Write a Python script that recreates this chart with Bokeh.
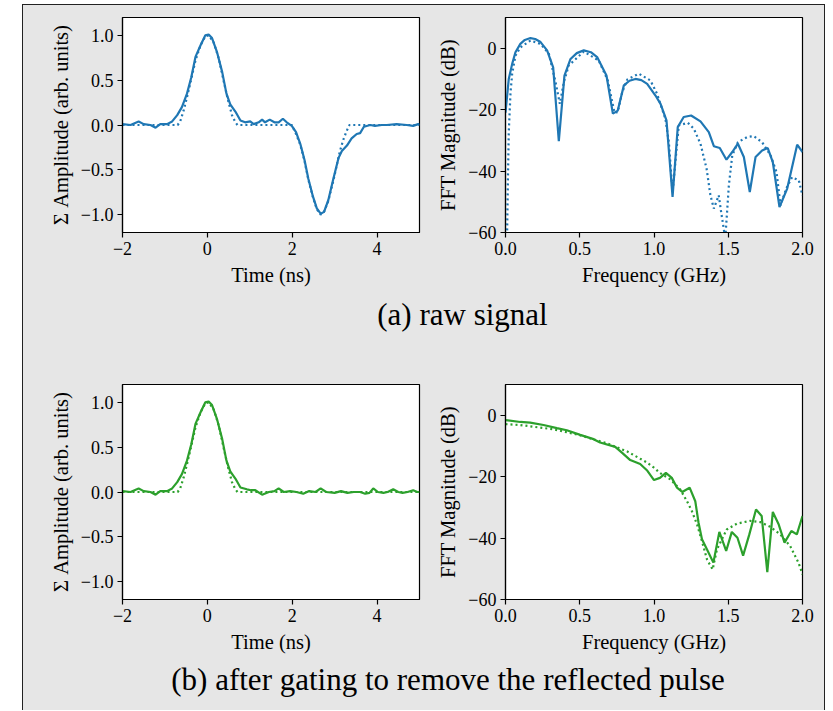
from bokeh.plotting import figure
from bokeh.layouts import row, column
from bokeh.models import Range1d, FixedTicker, Spacer
from bokeh.embed import file_html
from bokeh.resources import INLINE
from bokeh.core.properties import value

# ---------------- data ----------------
# (a) raw signal, time domain
a_time_meas = [-2.0, -1.81, -1.62, -1.50, -1.34, -1.22, -1.11, -0.95, -0.83, -0.71, -0.60, -0.48,
               -0.38, -0.28, -0.16, -0.05, 0.03, 0.11, 0.23, 0.35, 0.45, 0.54, 0.66, 0.78, 0.89,
               1.01, 1.09, 1.21, 1.29, 1.36, 1.47, 1.58, 1.68, 1.78, 1.87, 1.99, 2.09, 2.19, 2.29,
               2.38, 2.49, 2.58, 2.67, 2.75, 2.85, 2.97, 3.09, 3.17, 3.29, 3.40, 3.52, 3.60, 3.69,
               3.84, 3.95, 4.11, 4.23, 4.46, 4.70, 4.85, 4.97, 5.0]
a_amp_meas = [0.01, 0.0, 0.04, 0.01, 0.0, -0.03, 0.01, 0.01, 0.04, 0.11, 0.20, 0.35,
              0.53, 0.76, 0.89, 1.0, 1.01, 0.97, 0.81, 0.59, 0.35, 0.23, 0.15, 0.05, 0.03,
              0.04, 0.01, 0.03, 0.06, 0.03, 0.06, 0.03, 0.03, 0.07, 0.03, -0.01, -0.08, -0.21, -0.39,
              -0.60, -0.80, -0.93, -0.99, -0.97, -0.84, -0.60, -0.37, -0.29, -0.23, -0.15, -0.10, -0.09, -0.02,
              0.0, -0.01, 0.0, 0.0, 0.01, 0.0, -0.01, 0.01, 0.01]
a_time_model = [-2.0, -0.70, -0.64, -0.56, -0.48, -0.38, -0.28, -0.16, -0.05, 0.03, 0.15, 0.27,
                0.38, 0.48, 0.58, 0.66, 0.71, 1.99, 2.09, 2.19, 2.29, 2.38, 2.49, 2.58, 2.67,
                2.75, 2.85, 2.97, 3.05, 3.12, 3.20, 3.28, 3.35, 5.0]
a_amp_model = [0.0, 0.0, 0.04, 0.16, 0.31, 0.51, 0.72, 0.89, 0.99, 1.0, 0.92, 0.74,
               0.50, 0.29, 0.11, 0.03, 0.0, 0.0, -0.10, -0.22, -0.40, -0.61, -0.81, -0.94, -1.0,
               -0.97, -0.85, -0.62, -0.45, -0.30, -0.17, -0.07, 0.0, 0.0]

# (a) raw signal, spectrum
a_freq_meas = [0.0, 0.022, 0.045, 0.067, 0.10, 0.13, 0.168, 0.20, 0.236, 0.28, 0.321, 0.359, 0.397,
               0.438, 0.48, 0.527, 0.575, 0.617, 0.68, 0.723, 0.756, 0.797, 0.835, 0.875, 0.915,
               0.954, 1.01, 1.044, 1.084, 1.125, 1.16, 1.20, 1.25, 1.313, 1.369, 1.403, 1.443,
               1.488, 1.527, 1.565, 1.605, 1.645, 1.684, 1.728, 1.766, 1.80, 1.845, 1.897, 1.964, 2.0]
a_db_meas = [-21.0, -10.0, -5.1, -1.3, 1.4, 2.7, 3.3, 3.0, 2.0, -0.7, -6.2, -30.3, -8.9,
             -3.5, -1.6, -0.7, -1.3, -2.9, -8.9, -21.3, -20.3, -12.1, -10.6, -10.0, -10.4,
             -11.6, -15.4, -18.1, -23.5, -48.4, -25.7, -22.4, -21.9, -23.8, -27.3, -31.9, -32.5,
             -36.3, -33.8, -31.1, -35.4, -46.8, -35.4, -33.3, -32.5, -37.1, -51.7, -45.7, -31.4, -33.8]
a_freq_model = [0.0, 0.011, 0.016, 0.022, 0.034, 0.045, 0.067, 0.101, 0.168, 0.236, 0.292, 0.337,
                0.366, 0.393, 0.426, 0.527, 0.628, 0.689, 0.734, 0.756, 0.786, 0.82, 0.898, 0.976,
                1.02, 1.077, 1.10, 1.125, 1.167, 1.228, 1.268, 1.313, 1.354, 1.38, 1.403, 1.436,
                1.452, 1.48, 1.504, 1.527, 1.565, 1.628, 1.672, 1.728, 1.785, 1.825, 1.852, 1.89,
                1.93, 1.975, 2.0]
a_db_model = [-100.0, -60.0, -43.6, -27.3, -14.3, -8.3, -2.4, 0.3, 2.5, 1.4, -1.8, -11.0,
              -18.1, -11.0, -5.6, -1.1, -4.0, -10.5, -21.0, -20.8, -14.3, -10.2, -8.3, -10.5,
              -14.8, -23.0, -30.6, -47.0, -25.1, -24.3, -26.2, -31.1, -39.2, -47.9, -52.2, -47.9,
              -53.3, -62.0, -44.7, -34.9, -30.6, -28.9, -28.6, -30.6, -34.9, -40.3, -51.2, -45.7,
              -42.0, -43.0, -48.0]

# (b) gated signal, time domain
b_time_meas = [-2.0, -1.81, -1.62, -1.50, -1.34, -1.22, -1.11, -0.95, -0.83, -0.71, -0.60, -0.48,
               -0.38, -0.28, -0.16, -0.05, 0.03, 0.11, 0.23, 0.35, 0.45, 0.54, 0.66, 0.78, 0.93,
               1.03, 1.13, 1.29, 1.45, 1.58, 1.68, 1.80, 1.95, 2.10, 2.26, 2.40, 2.55, 2.67, 2.80,
               3.00, 3.15, 3.30, 3.45, 3.60, 3.72, 3.82, 3.91, 4.02, 4.15, 4.25, 4.38, 4.50, 4.60,
               4.72, 4.85, 4.95, 5.0]
b_amp_meas = [0.01, 0.0, 0.04, 0.01, 0.0, -0.03, 0.01, 0.01, 0.04, 0.11, 0.20, 0.35,
              0.53, 0.76, 0.89, 1.0, 1.01, 0.97, 0.81, 0.59, 0.35, 0.23, 0.15, 0.05, 0.03,
              0.02, 0.02, -0.03, 0.0, 0.01, 0.04, 0.0, 0.01, 0.0, -0.02, 0.01, 0.0, 0.04, 0.0,
              -0.01, 0.01, -0.01, 0.0, 0.0, -0.02, -0.01, 0.04, 0.0, -0.01, 0.0, 0.03, 0.0, -0.01,
              0.0, 0.02, 0.0, 0.0]
b_time_model = [-2.0, -0.70, -0.64, -0.56, -0.48, -0.38, -0.28, -0.16, -0.05, 0.03, 0.15, 0.27,
                0.38, 0.48, 0.58, 0.66, 0.71, 5.0]
b_amp_model = [0.0, 0.0, 0.04, 0.16, 0.31, 0.51, 0.72, 0.89, 0.99, 1.0, 0.92, 0.74,
               0.50, 0.29, 0.11, 0.03, 0.0, 0.0]

# (b) gated signal, spectrum
b_freq_meas = [0.0, 0.1, 0.166, 0.256, 0.346, 0.413, 0.503, 0.593, 0.637, 0.739, 0.784, 0.84,
               0.907, 0.952, 1.0, 1.04, 1.08, 1.12, 1.155, 1.19, 1.24, 1.278, 1.30, 1.323, 1.357,
               1.40, 1.44, 1.486, 1.524, 1.562, 1.60, 1.642, 1.687, 1.725, 1.763, 1.80, 1.84,
               1.879, 1.925, 1.962, 2.0]
b_db_meas = [-1.6, -2.2, -2.4, -3.2, -4.2, -4.9, -6.4, -7.8, -8.9, -10.3, -12.2, -14.6,
             -15.9, -17.9, -21.1, -20.4, -18.8, -20.4, -23.6, -25.0, -23.6, -28.0, -35.0, -40.4, -43.7,
             -48.0, -38.0, -44.2, -38.0, -39.9, -45.7, -38.8, -30.7, -32.8, -51.1, -31.5, -35.6,
             -41.5, -37.7, -38.8, -32.8]
b_freq_model = [0.0, 0.1, 0.325, 0.50, 0.685, 0.82, 0.952, 1.0, 1.04, 1.11, 1.177, 1.222, 1.255,
                1.29, 1.323, 1.357, 1.395, 1.424, 1.49, 1.558, 1.648, 1.715, 1.782, 1.85, 1.917,
                1.973, 2.0]
b_db_model = [-2.9, -3.2, -4.6, -6.5, -9.2, -11.8, -15.4, -17.1, -18.8, -20.9, -24.2, -28.0, -31.2,
              -35.6, -41.0, -47.0, -50.2, -43.7, -37.2, -35.3, -34.4, -34.8, -36.3, -38.8, -42.6,
              -48.0, -51.8]

# ticks
time_ticks = [-2, 0, 2, 4]
time_tick_labels = ["\u22122", "0", "2", "4"]
amp_ticks = [-1.0, -0.5, 0.0, 0.5, 1.0]
amp_tick_labels = ["\u22121.0", "\u22120.5", "0.0", "0.5", "1.0"]
freq_ticks = [0.0, 0.5, 1.0, 1.5, 2.0]
freq_tick_labels = ["0.0", "0.5", "1.0", "1.5", "2.0"]
db_ticks = [-60, -40, -20, 0]
db_tick_labels = ["\u221260", "\u221240", "\u221220", "0"]

caption_a = "(a) raw signal"
caption_b = "(b) after gating to remove the reflected pulse"

# ---------------- styling ----------------
BLUE = "#1f77b4"
GREEN = "#2ca02c"
GRAY = "#e6e6e6"
FONT = "Liberation Serif"
LW = 2.2
DASH = "2 3"


def make_panel(x_rng, y_rng, xt, xtl, yt, ytl, xlab, ylab, w, h, bl, br, bt, bb):
    p = figure(width=w, height=h, x_range=Range1d(*x_rng), y_range=Range1d(*y_rng),
               output_backend="svg", toolbar_location=None,
               min_border_left=bl, min_border_right=br, min_border_top=bt, min_border_bottom=bb)
    p.border_fill_color = GRAY
    p.background_fill_color = "white"
    p.outline_line_color = "black"
    p.outline_line_width = 1.2
    p.grid.visible = False
    for ax, ticks, labels, lab in ((p.xaxis[0], xt, xtl, xlab), (p.yaxis[0], yt, ytl, ylab)):
        ax.ticker = FixedTicker(ticks=ticks)
        ax.major_label_overrides = dict(zip(ticks, labels))
        ax.minor_tick_line_color = None
        ax.major_tick_in = 0
        ax.major_tick_out = 5
        ax.major_tick_line_color = "black"
        ax.major_tick_line_width = 1.2
        ax.axis_line_color = "black"
        ax.axis_line_width = 1.2
        ax.major_label_text_font = FONT
        ax.major_label_text_font_size = "18px"
        ax.major_label_text_color = "black"
        ax.major_label_standoff = 4
        ax.axis_label = lab
        ax.axis_label_text_font = FONT
        ax.axis_label_text_font_size = "20.5px"
        ax.axis_label_text_font_style = "normal"
        ax.axis_label_text_color = "black"
        ax.axis_label_standoff = 6
    return p


def make_caption(text, x, y, w, h):
    c = figure(width=w, height=h, x_range=Range1d(0, w), y_range=Range1d(0, h),
               output_backend="svg", toolbar_location=None, min_border=0,
               x_axis_location=None, y_axis_location=None)
    c.grid.visible = False
    c.outline_line_color = None
    c.background_fill_color = GRAY
    c.border_fill_color = GRAY
    c.text(x=[x], y=[y], text=[text], text_font=value(FONT), text_font_size="31px",
           text_align="center", text_baseline="alphabetic", text_color="black")
    return c


FRAME_W, FRAME_H = 297, 215
LW_L, LW_R = 99, 6
RW_L, RW_R = 80, 22
TOP, BOT = 12, 58

# (a) time
pa1 = make_panel((-2, 5), (-1.2, 1.2), time_ticks, time_tick_labels, amp_ticks, amp_tick_labels,
                 "Time (ns)", "\u03a3 Amplitude (arb. units)",
                 LW_L + FRAME_W + LW_R, TOP + FRAME_H + BOT, LW_L, LW_R, TOP, BOT)
pa1.line(a_time_model, a_amp_model, color=BLUE, line_width=LW, line_dash=DASH)
pa1.line(a_time_meas, a_amp_meas, color=BLUE, line_width=LW)

# (a) spectrum
pa2 = make_panel((0, 2), (-60, 10), freq_ticks, freq_tick_labels, db_ticks, db_tick_labels,
                 "Frequency (GHz)", "FFT Magnitude (dB)",
                 RW_L + FRAME_W + RW_R, TOP + FRAME_H + BOT, RW_L, RW_R, TOP, BOT)
pa2.line(a_freq_model, a_db_model, color=BLUE, line_width=LW, line_dash=DASH)
pa2.line(a_freq_meas, a_db_meas, color=BLUE, line_width=LW)

# (b) time
pb1 = make_panel((-2, 5), (-1.2, 1.2), time_ticks, time_tick_labels, amp_ticks, amp_tick_labels,
                 "Time (ns)", "\u03a3 Amplitude (arb. units)",
                 LW_L + FRAME_W + LW_R, TOP + FRAME_H + BOT, LW_L, LW_R, TOP, BOT)
pb1.line(b_time_model, b_amp_model, color=GREEN, line_width=LW, line_dash=DASH)
pb1.line(b_time_meas, b_amp_meas, color=GREEN, line_width=LW)

# (b) spectrum
pb2 = make_panel((0, 2), (-60, 10), freq_ticks, freq_tick_labels, db_ticks, db_tick_labels,
                 "Frequency (GHz)", "FFT Magnitude (dB)",
                 RW_L + FRAME_W + RW_R, TOP + FRAME_H + BOT, RW_L, RW_R, TOP, BOT)
pb2.line(b_freq_model, b_db_model, color=GREEN, line_width=LW, line_dash=DASH)
pb2.line(b_freq_meas, b_db_meas, color=GREEN, line_width=LW)

INNER_W = LW_L + FRAME_W + LW_R + RW_L + FRAME_W + RW_R
cap_a = make_caption(caption_a, 439, 58, INNER_W, 82)
cap_b = make_caption(caption_b, 424.5, 31, INNER_W, 53)

box = column(row(pa1, pa2), cap_a, row(pb1, pb2), cap_b,
             styles={"background-color": GRAY,
                     "border-left": "1px solid #222",
                     "border-right": "1px solid #222",
                     "border-top": "1px solid #222"})
page = row(Spacer(width=22, height=10), box, margin=(4, 0, 0, 0))

open("out.html", "w").write(file_html(page, INLINE))
